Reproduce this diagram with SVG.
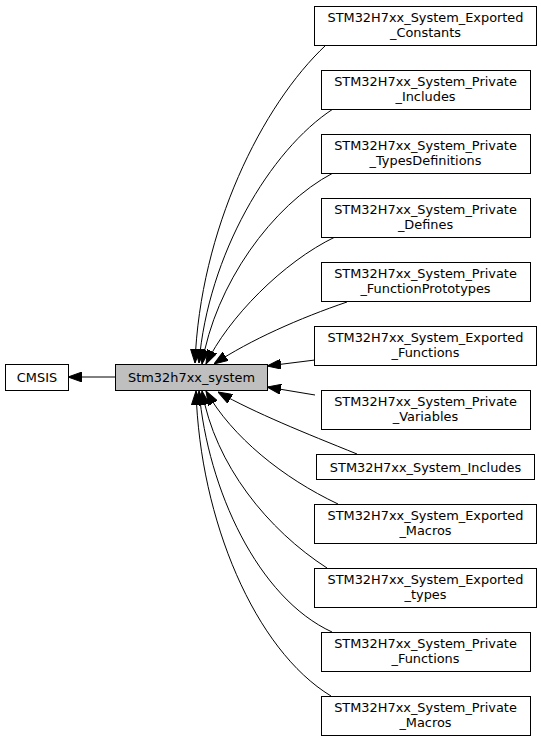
<svg xmlns="http://www.w3.org/2000/svg" width="541" height="741" viewBox="0 0 541 741">
<style>
.n rect{fill:#ffffff;stroke:#000000;stroke-width:1}
.cur rect{fill:#bfbfbf}
text{font-family:"DejaVu Sans","Liberation Sans",sans-serif;font-size:12.9px;fill:#000000;text-anchor:middle}
.e path{fill:none;stroke:#000000;stroke-width:1;marker-end:url(#ah)}
</style>
<defs>
<marker id="ah" markerUnits="userSpaceOnUse" markerWidth="14" markerHeight="10" viewBox="0 0 14 10" refX="14" refY="5" orient="auto">
<path d="M0,0 L14,5 L0,10 z" fill="#000000" stroke="#000000" stroke-width="1"/>
</marker>
</defs>
<rect width="541" height="741" fill="#ffffff"/>
<g class="e" id="edges">
<path d="M115,377 L68,377"/>
<path d="M326,45 C262,105 200,230 195,363"/>
<path d="M333,109 C270,150 208,255 199,363"/>
<path d="M333,173 C272,205 215,285 202,364"/>
<path d="M335,237 C283,262 228,318 206,364"/>
<path d="M347,302 C300,318 250,340 214,364"/>
<path d="M315,360 L267,366"/>
<path d="M315,395 L267,387"/>
<path d="M357,454 C305,433 255,413 218,392"/>
<path d="M338,504 C283,478 232,437 206,391"/>
<path d="M327,568 C268,530 215,465 202,391"/>
<path d="M332,632 C258,598 208,490 199,391"/>
<path d="M331,696 C255,650 200,520 196,391"/>
</g>
<g class="n" id="cmsis"><rect x="5.5" y="364.5" width="63" height="26"/><text x="37" y="382">CMSIS</text></g>
<g class="n cur" id="stm32h7xx_system"><rect x="115.5" y="364.5" width="152" height="26"/><text x="191.5" y="382">Stm32h7xx_system</text></g>
<g class="n" id="exported_constants"><rect x="314.5" y="6.5" width="222" height="39"/><text x="425.5" y="22">STM32H7xx_System_Exported</text><text x="425.5" y="36.5">_Constants</text></g>
<g class="n" id="private_includes"><rect x="321.5" y="70.5" width="209" height="39"/><text x="425.5" y="86">STM32H7xx_System_Private</text><text x="425.5" y="100.5">_Includes</text></g>
<g class="n" id="private_typesdefinitions"><rect x="321.5" y="134.5" width="209" height="39"/><text x="425.5" y="150">STM32H7xx_System_Private</text><text x="425.5" y="164.5">_TypesDefinitions</text></g>
<g class="n" id="private_defines"><rect x="321.5" y="198.5" width="209" height="39"/><text x="425.5" y="214">STM32H7xx_System_Private</text><text x="425.5" y="228.5">_Defines</text></g>
<g class="n" id="private_functionprototypes"><rect x="321.5" y="262.5" width="209" height="39"/><text x="425.5" y="278">STM32H7xx_System_Private</text><text x="425.5" y="292.5">_FunctionPrototypes</text></g>
<g class="n" id="exported_functions"><rect x="314.5" y="326.5" width="222" height="39"/><text x="425.5" y="342">STM32H7xx_System_Exported</text><text x="425.5" y="356.5">_Functions</text></g>
<g class="n" id="private_variables"><rect x="321.5" y="390.5" width="209" height="39"/><text x="425.5" y="406">STM32H7xx_System_Private</text><text x="425.5" y="420.5">_Variables</text></g>
<g class="n" id="includes"><rect x="316.5" y="454.5" width="218" height="25"/><text x="425.5" y="471.5">STM32H7xx_System_Includes</text></g>
<g class="n" id="exported_macros"><rect x="314.5" y="504.5" width="222" height="39"/><text x="425.5" y="520">STM32H7xx_System_Exported</text><text x="425.5" y="534.5">_Macros</text></g>
<g class="n" id="exported_types"><rect x="314.5" y="568.5" width="222" height="39"/><text x="425.5" y="584">STM32H7xx_System_Exported</text><text x="425.5" y="598.5">_types</text></g>
<g class="n" id="private_functions"><rect x="321.5" y="632.5" width="209" height="39"/><text x="425.5" y="648">STM32H7xx_System_Private</text><text x="425.5" y="662.5">_Functions</text></g>
<g class="n" id="private_macros"><rect x="321.5" y="696.5" width="209" height="39"/><text x="425.5" y="712">STM32H7xx_System_Private</text><text x="425.5" y="726.5">_Macros</text></g>
</svg>
